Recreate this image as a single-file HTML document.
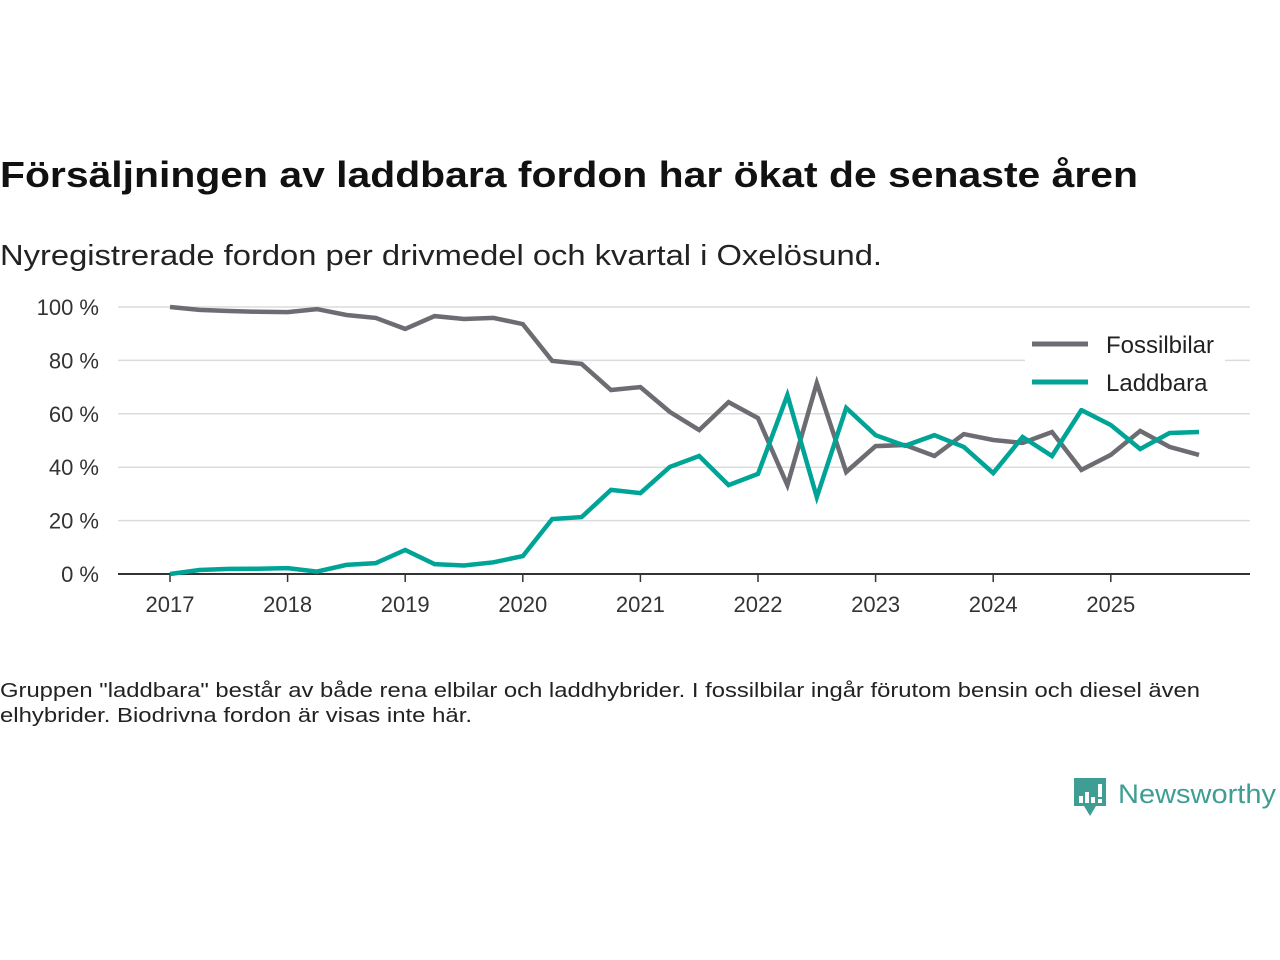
<!DOCTYPE html>
<html><head><meta charset="utf-8"><style>
html,body{margin:0;padding:0;background:#fff;}
svg{display:block;font-family:"Liberation Sans","DejaVu Sans",sans-serif;}
</style></head><body>
<svg id="c" width="1280" height="960" viewBox="0 0 1280 960">
<text x="0" y="187" font-size="36" font-weight="bold" fill="#111" textLength="1138" lengthAdjust="spacingAndGlyphs">Försäljningen av laddbara fordon har ökat de senaste åren</text>
<text x="0" y="265" font-size="29" fill="#222" textLength="882" lengthAdjust="spacingAndGlyphs">Nyregistrerade fordon per drivmedel och kvartal i Oxelösund.</text>
<g id="grid"></g>
<g id="yt"></g>
<g id="xt"></g>
<g id="lines"></g>
<g>
<rect x="1025" y="328" width="200" height="80" fill="#fff"/>
<line x1="1032" y1="344" x2="1088" y2="344" stroke="#6d6c72" stroke-width="5"/>
<text x="1106" y="353" font-size="24" fill="#222">Fossilbilar</text>
<line x1="1032" y1="382" x2="1088" y2="382" stroke="#00a497" stroke-width="5"/>
<text x="1106" y="391" font-size="24" fill="#222">Laddbara</text>
</g>
<text x="0" y="697" font-size="20" fill="#222" textLength="1200" lengthAdjust="spacingAndGlyphs">Gruppen "laddbara" består av både rena elbilar och laddhybrider. I fossilbilar ingår förutom bensin och diesel även</text>
<text x="0" y="722" font-size="20" fill="#222" textLength="472" lengthAdjust="spacingAndGlyphs">elhybrider. Biodrivna fordon är visas inte här.</text>
<g>
<path d="M1074 778h32v28h-10l-6 10l-6-10h-10z" fill="#3e9e94"/>
<rect x="1079" y="796" width="4" height="7" fill="#fff"/><rect x="1085" y="792" width="4" height="11" fill="#fff"/><rect x="1091" y="797" width="4" height="6" fill="#fff"/><rect x="1098" y="784" width="4" height="13" fill="#fff"/><rect x="1098" y="799" width="4" height="4" fill="#fff"/>
<text x="1118" y="803" font-size="27" fill="#3e9e94" textLength="158" lengthAdjust="spacingAndGlyphs">Newsworthy</text>
</g>
</svg>
<script>
const yTicks=[0,20,40,60,80,100];
const years=[2017,2018,2019,2020,2021,2022,2023,2024,2025];
const fossil=[100,98.9,98.5,98.2,98.1,99.2,97,95.9,91.8,96.6,95.5,95.9,93.6,79.8,78.7,68.9,70,60.7,53.9,64.4,58.4,33.3,71.5,38.2,47.9,48.3,44.2,52.4,50.2,49.1,53.2,39,44.6,53.6,47.6,44.6];
const laddbara=[0,1.5,1.9,2,2.2,0.9,3.4,4.1,9,3.7,3.2,4.4,6.7,20.6,21.3,31.5,30.3,40.1,44.2,33.3,37.5,67,28.8,62.2,52,48,52,47.6,37.8,51.3,44.2,61.4,55.8,46.8,52.8,53.2];
const NS="http://www.w3.org/2000/svg";
const X0=118,X1=1250;
const y=v=>574-v*2.67;
const x=t=>170+(t-2017)*117.6; // t in fractional years
function mk(tag,attrs,parent){const e=document.createElementNS(NS,tag);for(const k in attrs)e.setAttribute(k,attrs[k]);parent.appendChild(e);return e;}
const grid=document.getElementById('grid'),yt=document.getElementById('yt'),xt=document.getElementById('xt'),lines=document.getElementById('lines');
yTicks.forEach(v=>{
  if(v>0){const l=mk('line',{x1:X0,x2:X1,y1:y(v),y2:y(v),stroke:'#dcdcdc','stroke-width':1.5},grid);
  
  }
  const t=mk('text',{x:99,y:y(v)+8,'font-size':22,fill:'#333','text-anchor':'end'},yt);
  t.textContent=v+' %';
  
  
});
const ax=mk('line',{x1:X0,x2:X1,y1:y(0),y2:y(0),stroke:'#333','stroke-width':2},grid);


years.forEach(yr=>{
  const tk=mk('line',{x1:x(yr),x2:x(yr),y1:574,y2:582,stroke:'#333','stroke-width':1.5},xt);
  
  
  const t=mk('text',{x:x(yr),y:612,'font-size':22,fill:'#333','text-anchor':'middle'},xt);
  t.textContent=yr;
  
  
});
function series(vals,color,name){
  const d=vals.map((v,i)=>(i?'L':'M')+x(2017+i/4).toFixed(1)+' '+y(v).toFixed(1)).join(' ');
  const p=mk('path',{d:d,fill:'none',stroke:color,'stroke-width':4.5,'stroke-linejoin':'miter'},lines);
  
  
}
series(fossil,'#6d6c72','line-fossilbilar');
series(laddbara,'#00a497','line-laddbara');
</script>
</body></html>
